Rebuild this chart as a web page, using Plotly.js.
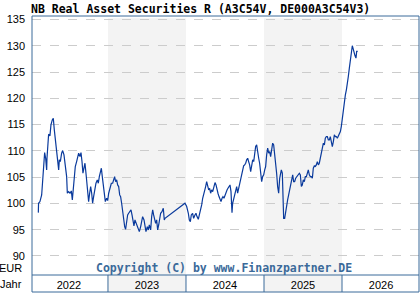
<!DOCTYPE html>
<html>
<head>
<meta charset="utf-8">
<script src="https://cdn.plot.ly/plotly-3.0.1.min.js"></script>
<style>html,body{margin:0;padding:0;background:#fff;}#chart{width:420px;height:300px;}</style>
</head>
<body>
<div id="chart"></div>
<script>
// Fractional years (x) and prices in EUR (y)
const years = [
2022.107,2022.110,2022.128,2022.150,2022.162,2022.175,2022.188,2022.201,2022.214,2022.218,2022.226,2022.239,2022.256,2022.269,2022.286,2022.299,2022.312,2022.325,2022.342,2022.355,2022.368,2022.376,2022.389,2022.406,2022.419,2022.436,2022.449,2022.470,2022.479,2022.496,2022.513,2022.530,2022.543,2022.556,2022.568,2022.581,2022.598,2022.611,2022.624,2022.641,2022.654,2022.667,2022.679,2022.692,2022.705,2022.718,2022.731,2022.744,2022.752,2022.765,2022.778,2022.791,2022.803,2022.816,2022.829,2022.846,2022.863,2022.876,2022.889,2022.902,2022.915,2022.927,2022.940,2022.953,2022.966,2022.983,2022.996,
2023.009,2023.026,2023.043,2023.060,2023.073,2023.085,2023.098,2023.111,2023.124,2023.137,2023.150,2023.162,2023.175,2023.188,2023.201,2023.214,2023.226,2023.239,2023.252,2023.265,2023.282,2023.295,2023.308,2023.321,2023.333,2023.346,2023.359,2023.372,2023.385,2023.402,
2023.419,2023.432,2023.444,2023.462,2023.474,2023.487,2023.504,2023.517,2023.530,2023.547,2023.560,2023.573,2023.585,2023.598,2023.611,2023.624,2023.637,2023.650,2023.662,2023.675,2023.692,2023.709,2023.722,2023.731,2023.987,
2024.009,2024.030,2024.043,2024.056,2024.068,2024.085,2024.098,2024.115,2024.128,2024.141,2024.158,2024.171,2024.184,2024.201,2024.214,2024.227,2024.239,2024.252,2024.265,2024.278,2024.291,2024.303,2024.316,2024.329,2024.342,2024.359,2024.372,2024.385,2024.397,2024.410,2024.423,2024.436,2024.449,2024.462,2024.474,2024.487,2024.500,2024.513,2024.526,2024.538,2024.551,2024.564,2024.577,2024.590,2024.598,2024.611,2024.624,2024.637,2024.650,2024.662,2024.675,2024.688,2024.701,2024.714,2024.726,2024.739,2024.752,2024.765,2024.778,2024.791,2024.803,2024.816,2024.829,2024.842,2024.855,2024.868,2024.880,2024.893,2024.906,2024.919,2024.932,2024.944,2024.957,2024.970,2024.983,2024.996,
2025.009,2025.021,2025.034,2025.047,2025.060,2025.073,2025.085,2025.098,2025.111,2025.124,2025.137,2025.150,2025.162,2025.175,2025.188,2025.201,2025.209,2025.222,2025.235,2025.239,2025.252,2025.265,2025.278,2025.291,2025.303,2025.316,2025.329,2025.342,2025.355,2025.368,2025.380,2025.393,2025.406,2025.419,2025.436,2025.453,2025.466,2025.479,2025.491,2025.504,2025.517,2025.530,2025.543,2025.556,2025.568,2025.581,2025.594,2025.607,2025.620,2025.632,2025.645,2025.658,2025.671,2025.684,2025.697,2025.709,2025.722,2025.735,2025.748,2025.761,2025.774,2025.786,2025.799,2025.812,2025.825,2025.838,2025.850,2025.863,2025.876,2025.889,2025.902,2025.915,2025.927,2025.940,2025.953,2025.966,2025.979,2025.991,
2026.004,2026.017,2026.030,2026.043,2026.056,2026.068,2026.081,2026.094,2026.107,2026.120,2026.132,2026.141,2026.154,2026.167,2026.179,2026.188,2026.201
];
const prices = [
98.25,100.03,100.35,101.62,104.16,107.97,109.68,108.60,106.38,108.60,111.78,113.17,112.86,114.95,115.90,116.22,114.00,112.41,110.51,108.60,106.38,108.29,107.97,109.56,110.06,109.24,107.97,105.11,101.94,102.25,101.94,102.38,100.67,102.57,105.11,107.02,107.97,109.05,109.56,108.92,109.68,107.97,105.75,106.70,107.65,105.75,103.84,101.94,100.35,101.94,103.21,101.94,100.03,101.30,102.57,103.84,104.48,103.84,105.11,106.06,106.70,105.11,103.21,101.94,100.35,100.98,100.54,
101.94,103.21,103.84,103.84,104.48,105.11,104.16,104.48,103.52,103.21,101.62,101.30,100.03,98.44,96.54,95.59,95.08,96.86,97.81,98.13,98.44,98.76,97.81,96.54,95.71,96.86,96.35,95.90,95.59,94.63,
95.59,96.54,97.49,96.86,95.90,94.63,95.59,94.95,95.90,94.95,97.49,98.76,97.81,96.54,96.22,96.86,94.95,95.90,97.49,98.13,98.44,99.08,96.86,97.17,100.03,
99.40,98.13,96.86,96.54,97.81,98.13,97.17,97.81,98.13,97.49,96.98,97.81,98.44,99.71,100.98,101.62,102.57,103.21,104.16,103.52,102.57,102.89,101.94,102.57,102.25,103.21,103.97,103.52,102.57,101.94,101.30,100.67,100.35,100.98,101.30,100.98,101.62,102.25,102.57,102.89,103.21,103.52,102.25,98.25,100.03,100.98,101.62,102.57,103.21,101.94,102.89,103.52,104.16,105.11,106.06,107.14,107.33,107.65,108.29,108.60,107.97,107.33,106.06,107.65,108.29,107.97,109.56,110.83,111.14,110.19,108.60,107.65,106.38,104.16,105.11,105.43,
106.38,107.02,109.24,110.51,109.56,109.87,108.92,110.51,111.46,111.14,109.56,107.97,105.75,103.21,101.94,104.79,105.75,106.38,105.75,101.62,97.17,97.17,98.76,100.03,100.67,101.62,102.57,104.16,105.11,105.43,104.16,104.16,104.79,105.11,105.43,105.75,105.43,103.21,103.52,104.48,104.16,105.11,105.11,105.75,106.38,105.43,105.11,105.11,104.79,106.70,107.14,107.02,107.33,107.97,107.33,107.65,108.60,109.56,110.51,111.46,111.14,112.41,112.73,112.73,112.10,112.10,112.73,111.78,110.83,111.78,113.05,112.73,112.73,112.41,112.86,113.37,113.68,114.63,
116.22,118.13,119.71,120.67,121.62,122.57,124.16,125.75,127.33,128.60,130.00,129.56,128.60,128.10,127.65,128.92,128.92
];
const yTicks = [90, 95, 100, 105, 110, 115, 120, 125, 130, 135];
const yearTickVals = [2022.5, 2023.5, 2024.5, 2025.5, 2026.5];
const yearTickText = ['2022', '2023', '2024', '2025', '2026'];
const yearBounds = [2023, 2024, 2025, 2026];
const shadedYears = [2023, 2025];

const frameColor = '#3b6a9a';
const boxBottom = -17 / 259;
const shapes = [];
shadedYears.forEach(y => shapes.push({type:'rect', xref:'x', yref:'paper', x0:y, x1:y+1, y0:boxBottom, y1:0.991, fillcolor:'#f3f3f3', line:{width:0}, layer:'below'}));
yearBounds.forEach(y => shapes.push({type:'line', xref:'x', yref:'paper', x0:y, x1:y, y0:boxBottom, y1:0, line:{color:frameColor, width:1}}));
shapes.push({type:'line', xref:'paper', yref:'paper', x0:0, x1:1, y0:0, y1:0, line:{color:frameColor, width:1}});
shapes.push({type:'rect', xref:'paper', yref:'paper', x0:0, x1:1, y0:boxBottom, y1:1, line:{color:frameColor, width:1}, fillcolor:'rgba(0,0,0,0)'});

const data = [{
  x: years, y: prices, type:'scatter', mode:'lines',
  line:{color:'#0a3a9c', width:1.2}, hoverinfo:'skip'
}];

const layout = {
  width:420, height:300,
  margin:{l:32, r:1, t:16, b:25, pad:0},
  paper_bgcolor:'#ffffff', plot_bgcolor:'rgba(0,0,0,0)',
  showlegend:false,
  title:{text:'NB Real Asset Securities R (A3C54V, DE000A3C54V3)', xref:'container', yref:'container', x:31/420, xanchor:'left', y:1-9/300, yanchor:'middle',
         font:{family:'DejaVu Sans Mono', size:11.5, color:'#000', weight:'bold'}},
  xaxis:{range:[2022.026, 2026.987], showgrid:false, zeroline:false, showline:false, ticks:'',
         tickvals:yearTickVals, ticktext:yearTickText, tickfont:{family:'Liberation Sans', size:11, color:'#000'}, ticklabelstandoff:2},
  yaxis:{range:[86.38, 135.67], tickvals:yTicks, showgrid:true, gridcolor:'#cccccc', griddash:'dash', gridwidth:1,
         zeroline:false, showline:false, ticks:'', tickfont:{family:'Liberation Sans', size:11, color:'#000'}, ticklabelstandoff:6},
  shapes: shapes,
  annotations:[
    {text:'Copyright (C) by www.Finanzpartner.DE', xref:'paper', yref:'paper', x:0.496, y:(275-267.5)/259, xanchor:'center', yanchor:'middle', showarrow:false,
     font:{family:'DejaVu Sans Mono', size:11.5, color:'#3b6a9a', weight:'bold'}},
    {text:'EUR', xref:'paper', yref:'paper', x:-8/387, y:(275-268)/259, xanchor:'right', yanchor:'middle', showarrow:false,
     font:{family:'Liberation Sans', size:11, color:'#000'}},
    {text:'Jahr', xref:'paper', yref:'paper', x:-8/387, y:-(284-275)/259, xanchor:'right', yanchor:'middle', showarrow:false,
     font:{family:'Liberation Sans', size:11, color:'#000'}}
  ]
};

Plotly.newPlot('chart', data, layout, {staticPlot:true, displayModeBar:false});
</script>
</body>
</html>
